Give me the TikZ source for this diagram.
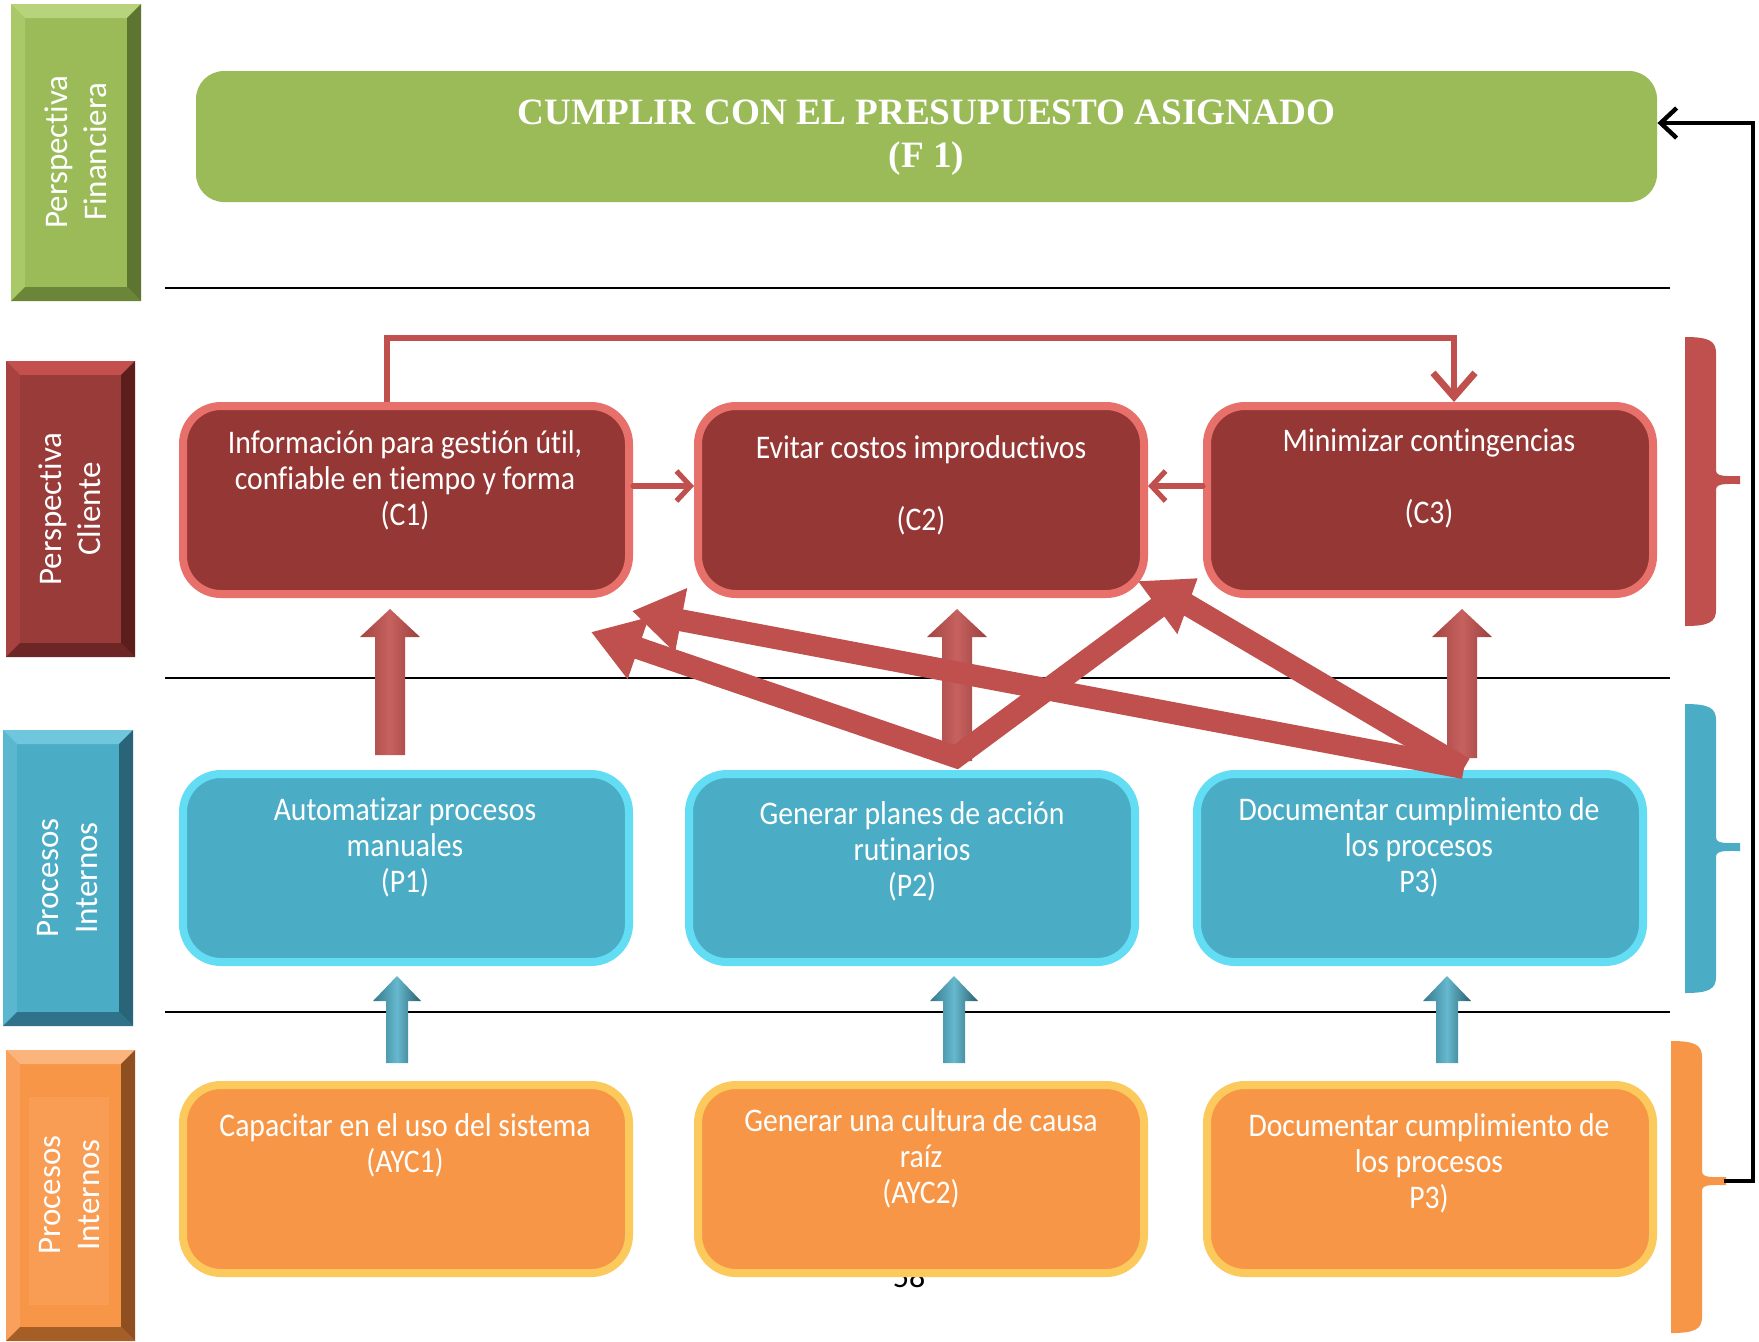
\documentclass[tikz,border=0pt]{standalone}
\usepackage{fontspec}
\setmainfont{Carlito}[RawFeature={-liga}]
\newfontfamily\boxfont[FakeStretch=0.9,RawFeature={-liga}]{Carlito}
\newfontfamily\tabfont[RawFeature={-liga}]{Carlito}
\newfontfamily\titlefont{Liberation Serif}
\usetikzlibrary{arrows.meta}
\definecolor{fgreen}{HTML}{9BBB59}
\definecolor{cred}{HTML}{953735}
\definecolor{cglow}{HTML}{E8706A}
\definecolor{pblue}{HTML}{4BACC6}
\definecolor{pglow}{HTML}{62DDF4}
\definecolor{aor}{HTML}{F79646}
\definecolor{aglow}{HTML}{FCC95C}
\definecolor{arrred}{HTML}{C0504D}
% tab colours: b base, t top, l left, r right, d bottom
\definecolor{gtb}{HTML}{9BBB59}\definecolor{gtt}{HTML}{B7D47D}\definecolor{gtl}{HTML}{A9C969}\definecolor{gtr}{HTML}{5E7531}\definecolor{gtd}{HTML}{6B8638}
\definecolor{rtb}{HTML}{983B39}\definecolor{rtt}{HTML}{C4504D}\definecolor{rtl}{HTML}{A84240}\definecolor{rtr}{HTML}{5C1E1D}\definecolor{rtd}{HTML}{6B2625}
\definecolor{btb}{HTML}{4BACC6}\definecolor{btt}{HTML}{6FC6DD}\definecolor{btl}{HTML}{5BB7D0}\definecolor{btr}{HTML}{2A6479}\definecolor{btd}{HTML}{2F728A}
\definecolor{otb}{HTML}{F79646}\definecolor{ott}{HTML}{FAB47C}\definecolor{otl}{HTML}{F9A15C}\definecolor{otr}{HTML}{8E5020}\definecolor{otd}{HTML}{A45E26}
\newcommand\BevTab[5]{%
  \fill[#5b] (#1,#2) rectangle (#3,#4);
  \fill[#5t] (#1,#2) -- (#3,#2) -- ({#3-14},{#2+14}) -- ({#1+14},{#2+14}) -- cycle;
  \fill[#5l] (#1,#2) -- ({#1+14},{#2+14}) -- ({#1+14},{#4-14}) -- (#1,#4) -- cycle;
  \fill[#5r] (#3,#2) -- (#3,#4) -- ({#3-14},{#4-14}) -- ({#3-14},{#2+14}) -- cycle;
  \fill[#5d] (#1,#4) -- (#3,#4) -- ({#3-14},{#4-14}) -- ({#1+14},{#4-14}) -- cycle;
}
\newcommand\SideBrace[5]{%
  \fill[#5] (#1,#2) .. controls ({#1+24},{#2}) and ({#1+31},{#2+4}) .. ({#1+31},{#2+16})
    -- ({#1+31},{#4-10}) .. controls ({#1+31},{#4-3}) and ({#1+40},{#4-4}) .. ({#1+55},{#4-4})
    -- ({#1+55},{#4+4}) .. controls ({#1+40},{#4+4}) and ({#1+31},{#4+3}) .. ({#1+31},{#4+10})
    -- ({#1+31},{#3-16}) .. controls ({#1+31},{#3-4}) and ({#1+24},{#3}) .. (#1,#3) -- cycle;
}
\newcommand\BlockUp[7]{%
  \path[#7] ({#1-#4},#2) -- ({#1-#4},{#3+#6}) -- ({#1-#5},{#3+#6}) -- (#1,#3)
    -- ({#1+#5},{#3+#6}) -- ({#1+#4},{#3+#6}) -- ({#1+#4},#2) -- cycle;
}
\begin{document}
\begin{tikzpicture}[x=0.5pt,y=-0.5pt,
  cbox/.style={rounded corners=19pt, fill=cred, draw=cglow, line width=4pt, minimum width=223pt, minimum height=94pt, inner sep=0pt},
  pbox/.style={cbox, fill=pblue, draw=pglow},
  abox/.style={cbox, fill=aor, draw=aglow},
  btxt/.style={text=white, font=\boxfont\fontsize{16.5}{18}\selectfont, align=center, inner sep=0pt},
  tabtxt/.style={text=white, font=\tabfont\fontsize{16.5}{19.5}\selectfont, align=center, rotate=90, inner sep=0pt},
  sepline/.style={black, line width=1pt},
  thinarr/.style={arrred, line width=2.6pt, line cap=round, -{Straight Barb[width=15pt,length=7pt]}},
  diag/.style={arrred, line width=11pt, line join=miter},
  redblock/.style={left color=arrred!85!black, right color=arrred!80!black, middle color=arrred!90!white},
  blueblock/.style={left color=pblue!70!black, right color=pblue!55!black, middle color=pblue!85!white}
]
\useasboundingbox (0,0) rectangle (1759,1341);
\fill[white] (0,0) rectangle (1759,1341);

% left tabs
\BevTab{11}{4}{141}{301}{gt}
\BevTab{6}{361}{135}{657}{rt}
\BevTab{3}{730}{133}{1026}{bt}
\BevTab{6}{1050}{135}{1341}{ot}
\fill[otl!60!otb] (29,1097) rectangle (109,1305);
\node[tabtxt] (tabF) at (76,152) {Perspectiva\\Financiera};
\node[tabtxt] (tabC) at (70,509) {Perspectiva\\Cliente};
\node[tabtxt] (tabP) at (68,878) {Procesos\\Internos};
\node[tabtxt] (tabA) at (70,1195) {Procesos\\Internos};

% separator lines
\draw[sepline] (165,288) -- (1670,288);
\draw[sepline] (165,678) -- (1670,678);
\draw[sepline] (165,1012) -- (1670,1012);

% page number (partly hidden)
\node[font=\fontsize{16}{18}\selectfont, inner sep=0pt] (pg) at (909,1277) {58};

% financial box
\node[rounded corners=14pt, fill=fgreen, minimum width=730.5pt, minimum height=65.5pt, inner sep=0pt] (f1) at (926.5,136.5) {};
\node[text=white, font=\titlefont\bfseries\fontsize{18.6}{21.5}\selectfont, align=center, inner sep=0pt] (f1t) at (926.5,138) {CUMPLIR CON EL PRESUPUESTO ASIGNADO\\(F 1)};

% boxes
\node[cbox] (c1) at (406,500) {};
\node[cbox] (c2) at (921,500) {};
\node[cbox] (c3) at (1430,500) {};
\node[pbox] (p1) at (406,868) {};
\node[pbox] (p2) at (912,868) {};
\node[pbox] (p3) at (1420,868) {};
\node[abox] (a1) at (406,1179) {};
\node[abox] (a2) at (921,1179) {};
\node[abox] (a3) at (1430,1179) {};

% texts
\node[btxt] (c1t) at (405,480) {Información para gestión útil,\\confiable en tiempo y forma\\(C1)};
\node[btxt] (c2t) at (921,485) {Evitar costos improductivos\\\mbox{}\\(C2)};
\node[btxt] (c3t) at (1429,478) {Minimizar contingencias\\\mbox{}\\(C3)};
\node[btxt] (p1t) at (405,847) {Automatizar procesos\\manuales\\(P1)};
\node[btxt] (p2t) at (912,851) {Generar planes de acción\\rutinarios\\(P2)};
\node[btxt] (p3t) at (1419,847) {Documentar cumplimiento de\\los procesos\\P3)};
\node[btxt] (a1t) at (405,1145) {Capacitar en el uso del sistema\\(AYC1)};
\node[btxt] (a2t) at (921,1158) {Generar una cultura de causa\\raíz\\(AYC2)};
\node[btxt] (a3t) at (1429,1163) {Documentar cumplimiento de\\los procesos\\P3)};

% block arrows
\BlockUp{390}{755}{609}{15}{30}{28}{redblock}
\BlockUp{957}{761}{609}{15}{30}{28}{redblock}
\BlockUp{1462}{758}{609}{15}{30}{28}{redblock}
\BlockUp{397}{1063}{976}{11}{24}{25}{blueblock}
\BlockUp{954}{1063}{976}{11}{24}{25}{blueblock}
\BlockUp{1447}{1063}{976}{11}{24}{25}{blueblock}

% diagonal thick arrows
\coordinate (p2top) at (956,757);
\coordinate (p3top) at (1464,768);
\coordinate (tipA) at (591,632);
\coordinate (tipB) at (632,611);
\coordinate (tipC) at (1198,578);
\coordinate (tipD) at (1176,598);
\draw[diag] (p3top) -- (tipD);
\draw[diag, {Triangle[width=31pt,length=25pt]}-{Triangle[width=31pt,length=25pt]}] (tipA) -- (p2top) -- (tipC);
\draw[diag, -{Triangle[width=31pt,length=25pt]}] (p3top) -- (tipB);

% thin red arrows
\draw[thinarr] ([yshift=7pt]c1.east) -- ([yshift=7pt]c2.west);
\draw[thinarr] ([yshift=7pt]c3.west) -- ([yshift=7pt]c2.east);
\draw[arrred, line width=3.4pt, -{Straight Barb[width=21pt,length=12pt]}] ([xshift=-9.5pt]c1.north) -- ++(0,-64) -| ([xshift=12pt]c3.north);

% side braces
\SideBrace{1685}{337}{626}{480}{arrred}
\SideBrace{1685}{704}{993}{847}{pblue}
\SideBrace{1671}{1041}{1333}{1181}{aor}

% black return connector
\coordinate (obtip) at (1724,1181);
\coordinate (rc) at (1753,123);
\draw[black, line width=2.2pt, -{Straight Barb[width=15pt,length=8pt]}] (obtip) -| (rc) -- ([yshift=6.75pt]f1.east);
\end{tikzpicture}
\end{document}
